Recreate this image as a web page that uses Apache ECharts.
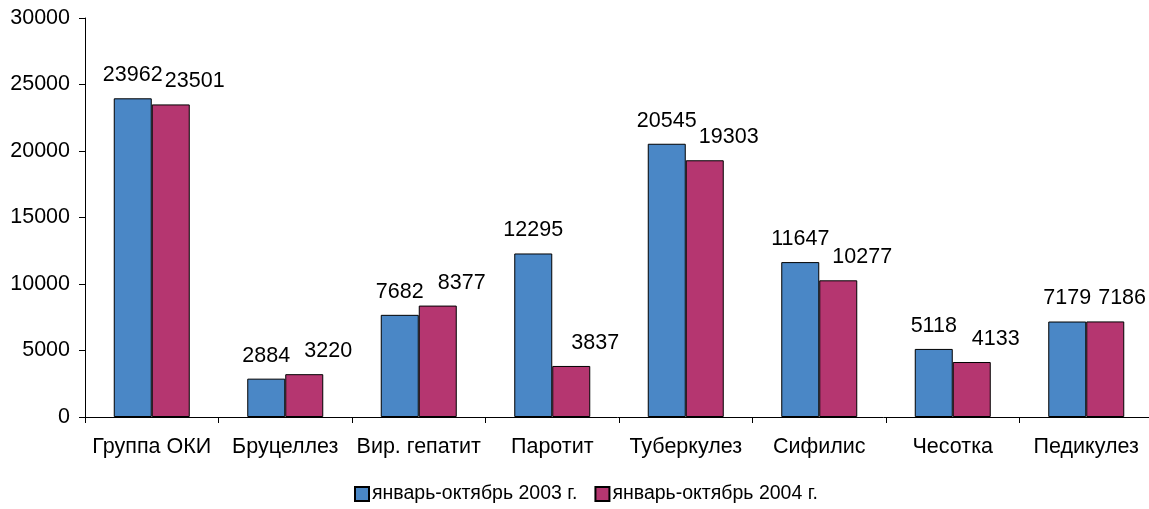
<!DOCTYPE html>
<html>
<head>
<meta charset="utf-8">
<script src="https://cdn.jsdelivr.net/npm/echarts@6/dist/echarts.min.js"></script>
<style>
html,body{margin:0;padding:0;background:#fff;}
#chart{width:1149px;height:509px;}
</style>
</head>
<body>
<div id="chart"></div>
<script>
const categories = ['Группа ОКИ','Бруцеллез','Вир. гепатит','Паротит','Туберкулез','Сифилис','Чесотка','Педикулез'];
const series2003 = [23962, 2884, 7682, 12295, 20545, 11647, 5118, 7179];
const series2004 = [23501, 3220, 8377, 3837, 19303, 10277, 4133, 7186];
const seriesNames = ['январь-октябрь 2003 г.', 'январь-октябрь 2004 г.'];

const font = '"Liberation Sans", Arial, sans-serif';
const chart = echarts.init(document.getElementById('chart'), null, {renderer: 'canvas'});
chart.setOption({
  animation: false,
  backgroundColor: '#fff',
  textStyle: {fontFamily: font},
  grid: {left: 85, width: 1068, top: 18, bottom: 92, containLabel: false, outerBoundsMode: 'none'},
  legend: {
    bottom: 0,
    left: 349,
    itemWidth: 14,
    itemHeight: 14,
    itemGap: 17,
    icon: 'rect',
    textStyle: {fontFamily: font, fontSize: 19.5, color: '#000', padding: [0,0,0,-2]},
    data: seriesNames
  },
  xAxis: {
    type: 'category',
    data: categories,
    axisLine: {lineStyle: {color: '#000', width: 1}},
    axisTick: {show: true, length: 6, lineStyle: {color: '#000'}},
    axisLabel: {color: '#000', fontSize: 21.5, fontFamily: font, margin: 19, interval: 0}
  },
  yAxis: {
    type: 'value',
    min: 0, max: 30000, interval: 5000,
    axisLine: {show: true, lineStyle: {color: '#000', width: 1}},
    axisTick: {show: true, length: 6, lineStyle: {color: '#000'}},
    splitLine: {show: false},
    axisLabel: {color: '#000', fontSize: 21.5, fontFamily: font, margin: 15, formatter: v => String(v)}
  },
  series: [
    {
      name: seriesNames[0], type: 'bar', data: series2003,
      barWidth: 38, barGap: '0%',
      itemStyle: {color: '#4A87C6', borderColor: '#000', borderWidth: 1},
      label: {show: true, position: 'top', distance: 12, color: '#000', fontSize: 21.5, fontFamily: font}
    },
    {
      name: seriesNames[1], type: 'bar', data: series2004,
      barWidth: 38, barGap: '0%',
      itemStyle: {color: '#B53670', borderColor: '#000', borderWidth: 1},
      label: {show: true, position: 'top', distance: 12, color: '#000', fontSize: 21.5, fontFamily: font},
      labelLayout: function (p) {
        const r = p.labelRect;
        return {dx: Math.min(24, 1146 - (r.x + r.width))};
      }
    }
  ]
});
</script>
</body>
</html>
